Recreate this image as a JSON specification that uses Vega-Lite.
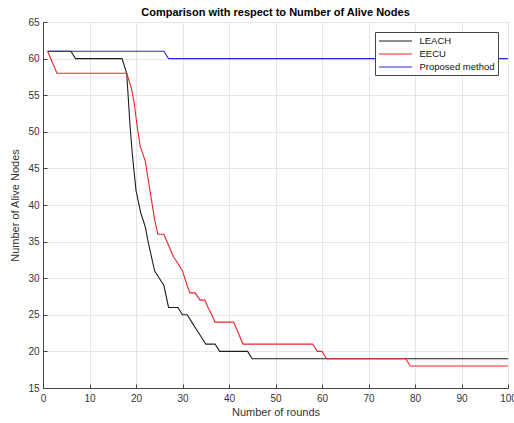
{
  "$schema": "https://vega.github.io/schema/vega-lite/v6.json",
  "width": 465,
  "height": 366,
  "autosize": {"type": "none"},
  "padding": {"left": 43, "top": 22, "right": 6, "bottom": 35},
  "background": "white",
  "config": {
    "font": "Liberation Sans",
    "view": {"stroke": "#444", "strokeWidth": 1}
  },
  "title": {
    "text": "Comparison with respect to Number of Alive Nodes",
    "font": "Liberation Sans",
    "fontSize": 11,
    "fontWeight": "bold",
    "color": "#000",
    "offset": -1,
    "anchor": "middle"
  },
  "data": {
    "values": [
      {"round": 1, "nodes": 61, "method": "LEACH"},
      {"round": 6, "nodes": 61, "method": "LEACH"},
      {"round": 7, "nodes": 60, "method": "LEACH"},
      {"round": 17, "nodes": 60, "method": "LEACH"},
      {"round": 18, "nodes": 58, "method": "LEACH"},
      {"round": 18.7, "nodes": 51, "method": "LEACH"},
      {"round": 19.2, "nodes": 47, "method": "LEACH"},
      {"round": 20, "nodes": 42, "method": "LEACH"},
      {"round": 21, "nodes": 39, "method": "LEACH"},
      {"round": 22, "nodes": 37, "method": "LEACH"},
      {"round": 22.6, "nodes": 35, "method": "LEACH"},
      {"round": 24, "nodes": 31, "method": "LEACH"},
      {"round": 25, "nodes": 30, "method": "LEACH"},
      {"round": 26, "nodes": 29, "method": "LEACH"},
      {"round": 27, "nodes": 26, "method": "LEACH"},
      {"round": 29, "nodes": 26, "method": "LEACH"},
      {"round": 30, "nodes": 25, "method": "LEACH"},
      {"round": 31, "nodes": 25, "method": "LEACH"},
      {"round": 32, "nodes": 24, "method": "LEACH"},
      {"round": 33, "nodes": 23, "method": "LEACH"},
      {"round": 34, "nodes": 22, "method": "LEACH"},
      {"round": 35, "nodes": 21, "method": "LEACH"},
      {"round": 37, "nodes": 21, "method": "LEACH"},
      {"round": 38, "nodes": 20, "method": "LEACH"},
      {"round": 44, "nodes": 20, "method": "LEACH"},
      {"round": 45, "nodes": 19, "method": "LEACH"},
      {"round": 100, "nodes": 19, "method": "LEACH"},
      {"round": 1, "nodes": 61, "method": "EECU"},
      {"round": 2, "nodes": 59.5, "method": "EECU"},
      {"round": 3, "nodes": 58, "method": "EECU"},
      {"round": 18, "nodes": 58, "method": "EECU"},
      {"round": 19, "nodes": 56, "method": "EECU"},
      {"round": 19.6, "nodes": 54, "method": "EECU"},
      {"round": 20.2, "nodes": 51, "method": "EECU"},
      {"round": 20.9, "nodes": 48, "method": "EECU"},
      {"round": 22, "nodes": 46, "method": "EECU"},
      {"round": 23, "nodes": 42, "method": "EECU"},
      {"round": 24, "nodes": 38, "method": "EECU"},
      {"round": 24.7, "nodes": 36, "method": "EECU"},
      {"round": 26, "nodes": 36, "method": "EECU"},
      {"round": 27, "nodes": 34.5, "method": "EECU"},
      {"round": 28, "nodes": 33, "method": "EECU"},
      {"round": 29, "nodes": 32, "method": "EECU"},
      {"round": 30, "nodes": 31, "method": "EECU"},
      {"round": 31, "nodes": 29, "method": "EECU"},
      {"round": 31.6, "nodes": 28, "method": "EECU"},
      {"round": 32.7, "nodes": 28, "method": "EECU"},
      {"round": 33.8, "nodes": 27, "method": "EECU"},
      {"round": 34.8, "nodes": 27, "method": "EECU"},
      {"round": 35.5, "nodes": 26, "method": "EECU"},
      {"round": 36.3, "nodes": 25, "method": "EECU"},
      {"round": 37, "nodes": 24, "method": "EECU"},
      {"round": 41, "nodes": 24, "method": "EECU"},
      {"round": 43, "nodes": 21, "method": "EECU"},
      {"round": 58, "nodes": 21, "method": "EECU"},
      {"round": 59, "nodes": 20, "method": "EECU"},
      {"round": 60, "nodes": 20, "method": "EECU"},
      {"round": 61, "nodes": 19, "method": "EECU"},
      {"round": 78, "nodes": 19, "method": "EECU"},
      {"round": 79, "nodes": 18, "method": "EECU"},
      {"round": 100, "nodes": 18, "method": "EECU"},
      {"round": 1, "nodes": 61, "method": "Proposed method"},
      {"round": 26, "nodes": 61, "method": "Proposed method"},
      {"round": 27, "nodes": 60, "method": "Proposed method"},
      {"round": 100, "nodes": 60, "method": "Proposed method"}
    ]
  },
  "layer": [
    {
      "mark": {"type": "line", "strokeWidth": 1.1, "clip": true},
      "encoding": {
        "x": {
          "field": "round", "type": "quantitative",
          "scale": {"domain": [0, 100], "nice": false, "zero": false},
          "axis": {
            "title": "Number of rounds",
            "values": [0, 10, 20, 30, 40, 50, 60, 70, 80, 90, 100],
            "grid": true, "gridColor": "#e6e6e6", "gridWidth": 1,
            "domain": true, "domainColor": "#444",
            "ticks": true, "tickSize": -4, "tickColor": "#444",
            "labelPadding": 9, "labelFontSize": 10, "labelColor": "#333",
            "labelFont": "Liberation Sans",
            "titleFont": "Liberation Sans", "titleFontSize": 11, "titleFontWeight": "normal",
            "titleColor": "#333", "titlePadding": 3,
            "labelFlush": false
          }
        },
        "y": {
          "field": "nodes", "type": "quantitative",
          "scale": {"domain": [15, 65], "nice": false, "zero": false},
          "axis": {
            "title": "Number of Alive Nodes",
            "values": [15, 20, 25, 30, 35, 40, 45, 50, 55, 60, 65],
            "grid": true, "gridColor": "#e6e6e6", "gridWidth": 1,
            "domain": true, "domainColor": "#444",
            "ticks": true, "tickSize": -4, "tickColor": "#444",
            "labelPadding": 8, "labelFontSize": 10, "labelColor": "#333",
            "labelFont": "Liberation Sans",
            "titleFont": "Liberation Sans", "titleFontSize": 11, "titleFontWeight": "normal",
            "titleColor": "#333", "titlePadding": 7,
            "labelFlush": false
          }
        },
        "color": {
          "field": "method", "type": "nominal",
          "scale": {"domain": ["LEACH", "EECU", "Proposed method"], "range": ["#1e1e1e", "#e8252b", "#2a2ae0"]},
          "legend": {
            "title": null,
            "orient": "top-right",
            "offset": 10,
            "symbolType": "M-3.3,0L3.3,0",
            "symbolSize": 100,
            "symbolOffset": 11.5,
            "symbolStrokeWidth": 1.1,
            "labelFont": "Liberation Sans",
            "labelFontSize": 9.5,
            "labelColor": "#111",
            "labelOffset": 18,
            "rowPadding": 2,
            "padding": 3,
            "strokeColor": "#444",
            "fillColor": "white",
            "cornerRadius": 0
          }
        },
        "order": {"field": "round", "type": "quantitative"}
      }
    }
  ]
}
